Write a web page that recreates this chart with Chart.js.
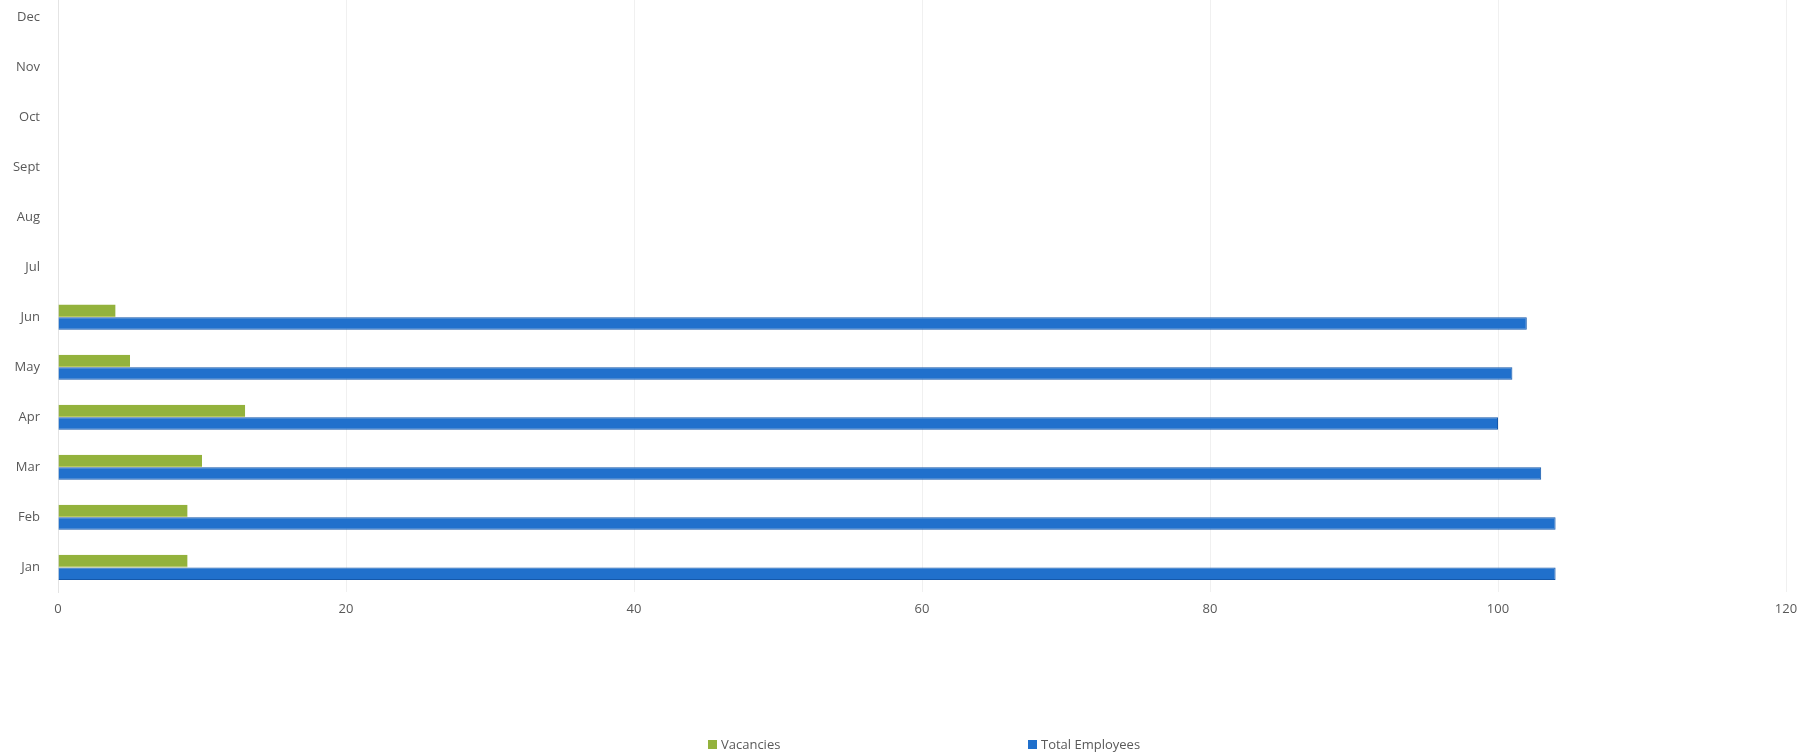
<!DOCTYPE html>
<html>
<head>
<meta charset="utf-8">
<script src="https://cdn.jsdelivr.net/npm/chart.js@4/dist/chart.umd.min.js"></script>
<style>
  html, body { margin: 0; padding: 0; background: #ffffff; }
  #wrap { position: relative; width: 1818px; height: 755px; overflow: hidden; }
  #chartBox { position: absolute; left: 0; top: -34px; width: 1818px; height: 789px; }
  #legend { position: absolute; top: 735px; left: 0; width: 1818px; height: 20px;
            font-family: "Open Sans", sans-serif; font-size: 13px; color: #595959; }
  .item { position: absolute; display: flex; align-items: center; white-space: nowrap; }
  .box { width: 9px; height: 9px; margin-right: 4px; }
</style>
</head>
<body>
<div id="wrap">
  <div id="chartBox"><canvas id="chart"></canvas></div>
  <div id="legend"></div>
</div>
<script>
const months = ["Jan", "Feb", "Mar", "Apr", "May", "Jun", "Jul", "Aug", "Sept", "Oct", "Nov", "Dec"];
const vacancies = [9, 9, 10, 13, 5, 4, null, null, null, null, null, null];
const totalEmployees = [104, 104, 103, 100, 101, 102, null, null, null, null, null, null];
const xTicks = [0, 20, 40, 60, 80, 100, 120];

const textColor = "#595959";
const gridColor = "#f0f0f0";

const datasets = [
  {
    label: "Vacancies",
    data: vacancies,
    backgroundColor: "#93b23c",
    borderColor: "#b5c23a",
    borderWidth: { top: 0, bottom: 1, left: 0, right: 0 },
    borderSkipped: false,
  },
  {
    label: "Total Employees",
    data: totalEmployees,
    backgroundColor: "#2070cc",
    borderColor: "#1558aa",
    borderWidth: 1,
    borderSkipped: "start",
  },
];

const ctx = document.getElementById("chart").getContext("2d");

const chart = new Chart(ctx, {
  type: "bar",
  data: { labels: months, datasets },
  options: {
    indexAxis: "y",
    responsive: true,
    maintainAspectRatio: false,
    animation: false,
    layout: { padding: { top: 0, right: 32, bottom: 129, left: 0 } },
    datasets: { bar: { categoryPercentage: 0.5, barPercentage: 1.0 } },
    plugins: {
      legend: { display: false },
      tooltip: { enabled: false },
    },
    scales: {
      x: {
        min: 0,
        max: 120,
        afterBuildTicks: (s) => { s.ticks = xTicks.map((v) => ({ value: v })); },
        ticks: {
          color: textColor,
          font: { family: "Open Sans", size: 13 },
          padding: 9,
        },
        grid: { color: gridColor, drawTicks: false },
        border: { display: false },
      },
      y: {
        reverse: true,
        afterFit: (s) => { s.width = 58; },
        ticks: {
          color: textColor,
          font: { family: "Open Sans", size: 13 },
          padding: 18,
        },
        grid: { display: false, drawTicks: false },
        border: { display: true, color: "#e4e4e4" },
      },
    },
  },
});

// legend built from the datasets
const legendPos = [708, 1028];
const legend = document.getElementById("legend");
datasets.forEach((d, i) => {
  const item = document.createElement("div");
  item.className = "item";
  item.style.left = legendPos[i] + "px";
  item.innerHTML = `<span class="box" style="background:${d.backgroundColor}"></span><span>${d.label}</span>`;
  legend.appendChild(item);
});
</script>
</body>
</html>
